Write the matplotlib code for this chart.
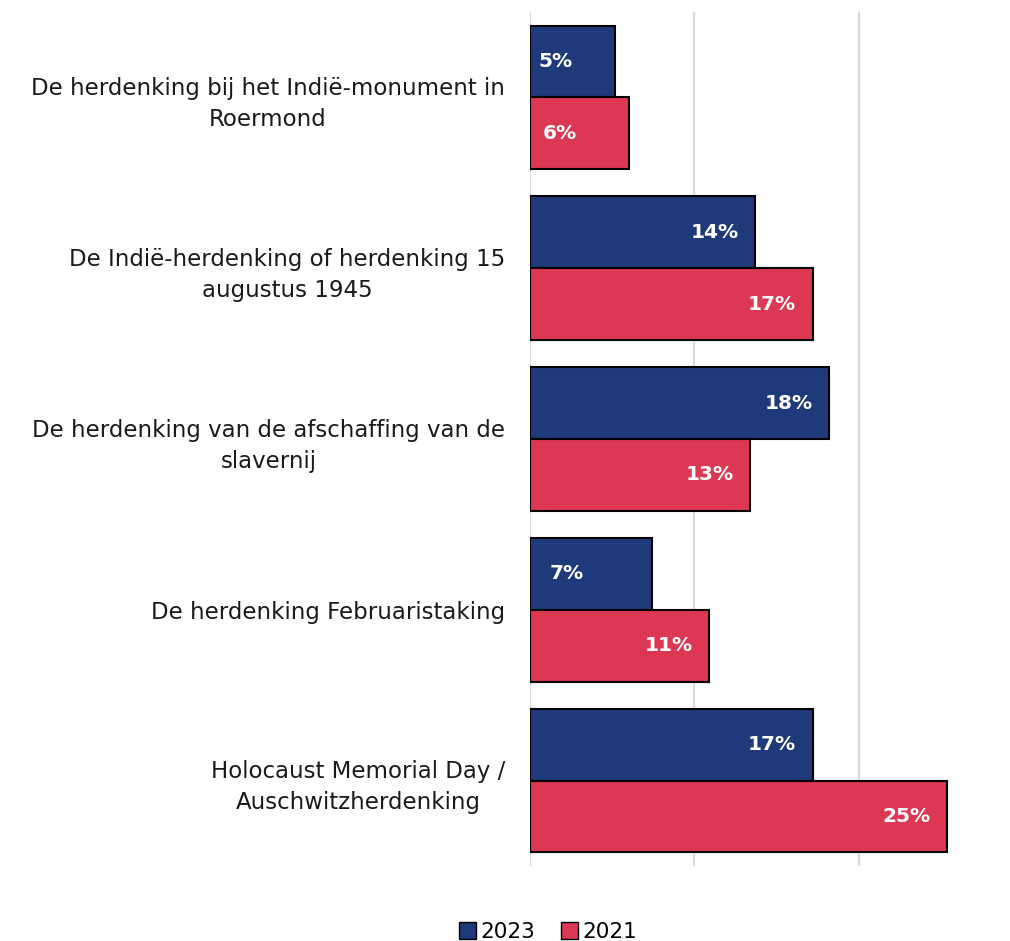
import matplotlib.pyplot as plt
import numpy as np
from matplotlib.patches import Patch

# data
categories = [
    'De herdenking bij het Indië-monument in\nRoermond',
    'De Indië-herdenking of herdenking 15\naugustus 1945',
    'De herdenking van de afschaffing van de\nslavernij',
    'De herdenking Februaristaking',
    'Holocaust Memorial Day /\nAuschwitzherdenking',
]
vals_2023 = [5.2, 13.7, 18.2, 7.4, 17.2]
vals_2021 = [6.0, 17.2, 13.4, 10.9, 25.4]
labels_2023 = ['5%', '14%', '18%', '7%', '17%']
labels_2021 = ['6%', '17%', '13%', '11%', '25%']

color_2023 = '#1f3a7a'
color_2021 = '#dc3753'

fig = plt.figure(figsize=(10.1, 9.41), dpi=100)
ax = fig.add_axes([530 / 1010, 1 - 866 / 941, 470 / 1010, 854 / 941])

y = np.arange(len(categories))
h = 0.42
bars1 = ax.barh(y - h / 2, vals_2023, height=h, color=color_2023,
                edgecolor='black', linewidth=1.5, label='2023', zorder=3)
bars2 = ax.barh(y + h / 2, vals_2021, height=h, color=color_2021,
                edgecolor='black', linewidth=1.5, label='2021', zorder=3)

ax.set_xlim(0, 28.6)
ax.set_ylim(len(categories) - 0.5, -0.5)
ax.set_xticks([0, 10, 20])
ax.tick_params(axis='x', labelbottom=False, length=0)
ax.tick_params(axis='y', length=0, pad=18)
ax.set_yticks(y)
ax.set_yticklabels(categories, fontsize=16.5, color='#1a1a1a')
for lab in ax.get_yticklabels():
    lab.set_multialignment('center')
    lab.set_linespacing(1.45)
ax.grid(axis='x', color='#d9d9d9', linewidth=1.5, zorder=0)
for s in ax.spines.values():
    s.set_visible(False)


def put_labels(bars, vals, labels):
    for b, v, t in zip(bars, vals, labels):
        yc = b.get_y() + b.get_height() / 2
        if v < 10:
            # short bars: label sits near the left
            ax.text(v * 0.3, yc, t, ha='center', va='center', color='white',
                    fontsize=14.5, fontweight='bold', zorder=4)
        else:
            ax.text(v - 1.0, yc, t, ha='right', va='center', color='white',
                    fontsize=14.5, fontweight='bold', zorder=4)


put_labels(bars1, vals_2023, labels_2023)
put_labels(bars2, vals_2021, labels_2021)

handles = [Patch(facecolor=color_2023, edgecolor='black', label='2023'),
           Patch(facecolor=color_2021, edgecolor='black', label='2021')]
fig.legend(handles=handles, loc='center', bbox_to_anchor=(548 / 1010, 1 - 932 / 941),
           ncol=2, frameon=False, fontsize=15.5, handlelength=0.8, handleheight=0.8,
           handletextpad=0.2, columnspacing=1.2)

fig.savefig('out.png', dpi=100)
